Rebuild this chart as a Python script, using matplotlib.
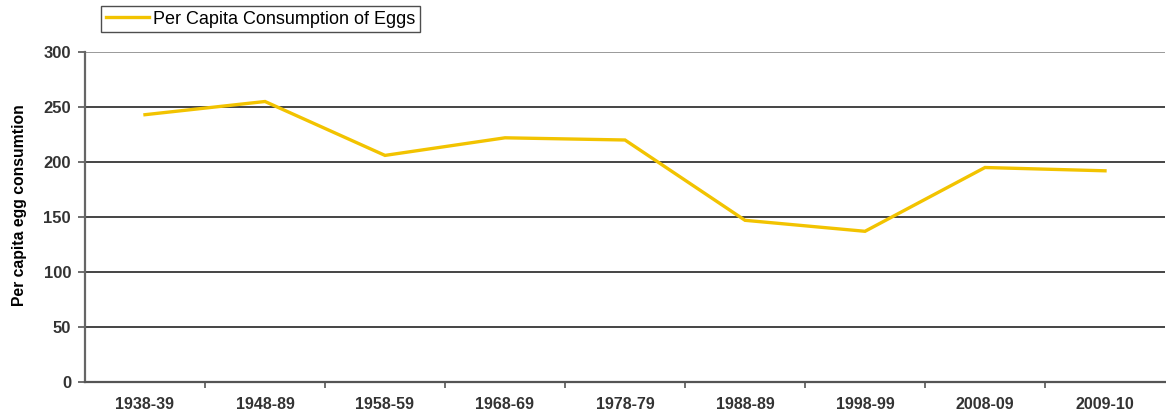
import matplotlib
matplotlib.use("Agg")
import matplotlib.pyplot as plt
import numpy as np

plt.rcParams['font.family'] = ['Liberation Sans', 'DejaVu Sans']

periods = ["1938-39", "1948-89", "1958-59", "1968-69", "1978-79",
           "1988-89", "1998-99", "2008-09", "2009-10"]
eggs_per_capita = [243, 255, 206, 222, 220, 147, 137, 195, 192]
y_ticks = [0, 50, 100, 150, 200, 250, 300]

W, H = 1166, 416
fig = plt.figure(figsize=(W / 100, H / 100), dpi=100)
ax = fig.add_axes([85 / W, (H - 382) / H, 1080 / W, 330 / H])

x = np.arange(len(periods))
line, = ax.plot(x, eggs_per_capita, color="#F2C300", lw=2.4,
                solid_joinstyle="miter", zorder=3,
                label="Per Capita Consumption of Eggs")

ax.set_xlim(-0.5, len(periods) - 0.5)
ax.set_ylim(0, 300)
ax.set_yticks(y_ticks)
ax.set_yticklabels([str(v) for v in y_ticks], fontweight="bold", fontsize=12,
                   color="#333333")

# category labels centred, tick marks between categories
ax.set_xticks(x)
ax.set_xticklabels(periods, fontweight="bold", fontsize=11.5, color="#333333")
ax.tick_params(axis="x", length=0, pad=11)
ax.set_xticks(np.arange(0.5, len(periods) - 0.5, 1), minor=True)
ax.tick_params(axis="x", which="minor", length=4, width=1.2, color="#555555")
ax.tick_params(axis="y", length=5, width=1.2, color="#555555", pad=5)

for v in y_ticks[1:]:
    ax.axhline(v, color="#9a9a9a" if v == 300 else "#444444", lw=1.4, zorder=1)

for side in ("top", "right"):
    ax.spines[side].set_visible(False)
ax.spines["left"].set_color("#666666")
ax.spines["left"].set_linewidth(1.6)
ax.spines["bottom"].set_color("#555555")
ax.spines["bottom"].set_linewidth(1.6)

ax.set_ylabel("Per capita egg consumtion", fontweight="bold", fontsize=11.3)
ax.yaxis.set_label_coords(-58 / 1080, (382 - 205) / 330)

leg = fig.legend(handles=[line], loc="upper left",
                 bbox_to_anchor=(101 / W, 1 - 6 / H), fontsize=13,
                 frameon=True, fancybox=False, edgecolor="#222222",
                 handlelength=2.4, handletextpad=0.25, borderpad=0.25,
                 borderaxespad=0)
leg.get_frame().set_linewidth(1.0)

fig.savefig("out.png", dpi=100)
